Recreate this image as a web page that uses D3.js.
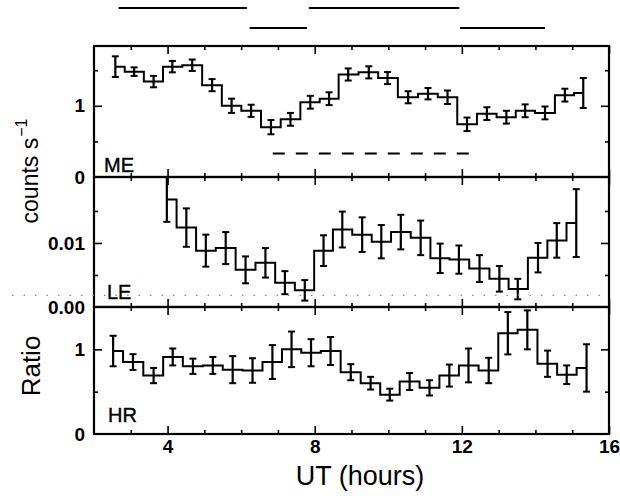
<!DOCTYPE html>
<html>

<head>
    <meta charset="UTF-8">
    <style>
        body { margin: 0; background: #fff; }
        svg { display: block; font-family: "Liberation Sans", Arial, sans-serif; }
    </style>
</head>

<body>
    <svg></svg>
    <script src="https://d3js.org/d3.v7.min.js"></script>

    <script>

        let width = 620, height = 501;

        // ME panel (counts s-1)
        const meHours = [2.58, 3.09, 3.62, 4.13, 4.67, 5.21, 5.74, 6.27, 6.81, 7.34, 7.88, 8.39, 8.91,
            9.47, 9.98, 10.54, 11.08, 11.61, 12.14, 12.68, 13.21, 13.72, 14.26, 14.80, 15.30];
        const meRate = [1.55, 1.48, 1.34, 1.55, 1.57, 1.29, 1.0, 0.93, 0.70, 0.81, 1.05, 1.10, 1.44,
            1.47, 1.39, 1.12, 1.17, 1.12, 0.74, 0.89, 0.84, 0.93, 0.90, 1.15, 1.18];
        const meErr = [0.145, 0.06, 0.08, 0.08, 0.08, 0.085, 0.1, 0.085, 0.1, 0.09, 0.09, 0.09, 0.085,
            0.085, 0.085, 0.085, 0.08, 0.095, 0.095, 0.09, 0.09, 0.09, 0.09, 0.09, 0.21];

        // LE panel (counts s-1)
        const leHours = [3.98, 4.51, 5.04, 5.58, 6.12, 6.66, 7.19, 7.73, 8.24, 8.75, 9.29, 9.81, 10.34,
            10.88, 11.41, 11.92, 12.48, 13.02, 13.52, 14.07, 14.58, 15.11];
        const leRate = [0.0168, 0.0124, 0.0088, 0.0092, 0.0058, 0.0069, 0.0038, 0.0026, 0.0088, 0.0121,
            0.0113, 0.0102, 0.0117, 0.0108, 0.0076, 0.0074, 0.0060, 0.0044, 0.0028, 0.0077, 0.0104, 0.0131];
        const leErr = [0.0035, 0.003, 0.0025, 0.0025, 0.0021, 0.0023, 0.0018, 0.0016, 0.0024, 0.0028,
            0.0027, 0.0026, 0.0027, 0.0027, 0.0023, 0.0022, 0.0021, 0.002, 0.0016, 0.0023, 0.0027, 0.0053];

        // HR panel (ratio)
        const hrHours = [2.52, 3.06, 3.62, 4.14, 4.69, 5.23, 5.77, 6.31, 6.85, 7.37, 7.90, 8.43, 8.98,
            9.52, 10.04, 10.58, 11.12, 11.66, 12.18, 12.73, 13.25, 13.78, 14.33, 14.85, 15.39];
        const hrRatio = [0.98, 0.85, 0.69, 0.91, 0.80, 0.81, 0.76, 0.75, 0.85, 1.0, 0.96, 0.98, 0.73,
            0.60, 0.465, 0.62, 0.545, 0.69, 0.81, 0.75, 1.19, 1.23, 0.83, 0.70, 0.78];
        const hrErr = [0.18, 0.093, 0.09, 0.1, 0.09, 0.1, 0.16, 0.145, 0.2, 0.21, 0.16, 0.165, 0.095,
            0.075, 0.07, 0.1, 0.09, 0.13, 0.2, 0.15, 0.25, 0.23, 0.155, 0.11, 0.28];

        // coverage bars above the plot (hours, row 0 = upper)
        const barStart = [2.67, 6.23, 7.84, 11.95];
        const barEnd = [6.16, 7.79, 11.93, 14.26];
        const barRow = [0, 1, 0, 1];

        // dashed interval in ME panel, dotted level in LE panel
        const dashStart = 6.86, dashEnd = 12.35, dashLevel = 0.33;
        const leDotLevel = 0.0018;

        const xMajor = [4, 8, 12, 16];
        const xMinor = [3, 5, 6, 7, 9, 10, 11, 13, 14, 15];

        let svg = d3.select("svg")
            .attr("width", width)
            .attr("height", height)
            .attr("viewBox", "0 0 " + width + " " + height);

        const x0 = 94, x1 = 609;
        const x = d3.scaleLinear().domain([2, 16]).range([x0, x1]);

        const panels = [
            {
                name: "ME", top: 46, bottom: 177, domain: [0, 1.84], hours: meHours, vals: meRate, errs: meErr,
                major: [1], minor: [0.5, 1.5], labels: [0, 1], fmt: d3.format("d"), tag: [104, 172]
            },
            {
                name: "LE", top: 177, bottom: 307, domain: [0, 0.0203], hours: leHours, vals: leRate, errs: leErr,
                major: [0.01], minor: [0.005, 0.015], labels: [0, 0.01], fmt: d3.format(".2f"), tag: [107, 299]
            },
            {
                name: "HR", top: 307, bottom: 434, domain: [0, 1.5], hours: hrHours, vals: hrRatio, errs: hrErr,
                major: [1], minor: [0.5], labels: [0, 1], fmt: d3.format("d"), tag: [108, 422]
            }
        ];

        panels.forEach((p, k) => {
            const y = d3.scaleLinear().domain(p.domain).range([p.bottom, p.top]);
            const g = svg.append("g");

            g.append("clipPath").attr("id", "clip" + k)
                .append("rect")
                .attr("x", x0).attr("y", p.top)
                .attr("width", x1 - x0).attr("height", p.bottom - p.top);

            // ticks, all pointing inward
            const tickGroup = (axis, tx, ty) => {
                const a = g.append("g").attr("transform", "translate(" + tx + "," + ty + ")").call(axis);
                a.select(".domain").remove();
                a.selectAll("line").attr("stroke-width", 1.6);
                return a;
            };
            tickGroup(d3.axisBottom(x).tickValues(xMajor).tickSize(-8).tickFormat(""), 0, p.bottom);
            tickGroup(d3.axisBottom(x).tickValues(xMinor).tickSize(-4).tickFormat(""), 0, p.bottom);
            tickGroup(d3.axisTop(x).tickValues(xMajor).tickSize(-8).tickFormat(""), 0, p.top);
            tickGroup(d3.axisTop(x).tickValues(xMinor).tickSize(-4).tickFormat(""), 0, p.top);
            tickGroup(d3.axisLeft(y).tickValues(p.major).tickSize(-8).tickFormat(""), x0, 0);
            tickGroup(d3.axisLeft(y).tickValues(p.minor).tickSize(-4).tickFormat(""), x0, 0);
            tickGroup(d3.axisRight(y).tickValues(p.major).tickSize(-8).tickFormat(""), x1, 0);
            tickGroup(d3.axisRight(y).tickValues(p.minor).tickSize(-4).tickFormat(""), x1, 0);

            // y labels
            const yl = tickGroup(d3.axisLeft(y).tickValues(p.labels).tickSize(0).tickPadding(9).tickFormat(p.fmt), x0, 0);
            yl.selectAll("text")
                .attr("font-size", 19)
                .attr("font-weight", "bold")
                .attr("font-family", "Liberation Sans, Arial, sans-serif")
                .attr("fill", "#000");

            // x labels on bottom panel only
            if (k === panels.length - 1) {
                const xl = tickGroup(d3.axisBottom(x).tickValues(xMajor).tickSize(0).tickPadding(6).tickFormat(d3.format("d")), 0, p.bottom);
                xl.selectAll("text")
                    .attr("font-size", 19)
                    .attr("font-weight", "bold")
                    .attr("font-family", "Liberation Sans, Arial, sans-serif")
                    .attr("fill", "#000");
            }

            // step line
            const pts = p.hours.map((h, i) => [h, p.vals[i], p.errs[i]]);
            const line = d3.line()
                .x(d => x(d[0]))
                .y(d => y(d[1]))
                .curve(d3.curveStep);

            const data = g.append("g").attr("clip-path", "url(#clip" + k + ")");

            data.append("path")
                .datum(pts)
                .attr("d", line)
                .attr("fill", "none")
                .attr("stroke", "#000")
                .attr("stroke-width", 2);

            // error bars
            const bars = data.selectAll(".err")
                .data(pts)
                .enter()
                .append("g")
                .attr("class", "err");
            bars.append("line")
                .attr("x1", d => x(d[0])).attr("x2", d => x(d[0]))
                .attr("y1", d => y(d[1] - d[2])).attr("y2", d => y(d[1] + d[2]))
                .attr("stroke", "#000").attr("stroke-width", 2.2);
            [-1, 1].forEach(s => {
                bars.append("line")
                    .attr("x1", d => x(d[0]) - 3.5).attr("x2", d => x(d[0]) + 3.5)
                    .attr("y1", d => y(d[1] + s * d[2])).attr("y2", d => y(d[1] + s * d[2]))
                    .attr("stroke", "#000").attr("stroke-width", 2);
            });

            if (p.name === "ME") {
                g.append("line")
                    .attr("x1", x(dashStart)).attr("x2", x(dashEnd))
                    .attr("y1", y(dashLevel)).attr("y2", y(dashLevel))
                    .attr("stroke", "#000").attr("stroke-width", 2)
                    .attr("stroke-dasharray", "12,11");
            }
            if (p.name === "LE") {
                svg.append("line")
                    .attr("x1", 12).attr("x2", x1)
                    .attr("y1", y(leDotLevel)).attr("y2", y(leDotLevel))
                    .attr("stroke", "#888").attr("stroke-width", 1.2)
                    .attr("stroke-dasharray", "1.5,10");
            }

            // panel name
            g.append("text")
                .attr("x", p.tag[0]).attr("y", p.tag[1])
                .attr("font-size", 20)
                .attr("stroke", "#000")
                .attr("stroke-width", 0.4)
                .text(p.name);

            // frame
            g.append("rect")
                .attr("x", x0).attr("y", p.top)
                .attr("width", x1 - x0).attr("height", p.bottom - p.top)
                .attr("fill", "none")
                .attr("stroke", "#000")
                .attr("stroke-width", 2.2);
        });

        // coverage bars
        svg.append("g")
            .selectAll("line")
            .data(barStart)
            .enter()
            .append("line")
            .attr("x1", d => x(d))
            .attr("x2", (d, i) => x(barEnd[i]))
            .attr("y1", (d, i) => barRow[i] === 0 ? 8 : 28)
            .attr("y2", (d, i) => barRow[i] === 0 ? 8 : 28)
            .attr("stroke", "#000")
            .attr("stroke-width", 2.2);

        // axis titles
        const yTitle = svg.append("text")
            .attr("transform", "translate(38,171) rotate(-90)")
            .attr("text-anchor", "middle")
            .attr("font-size", 23);
        yTitle.append("tspan").text("counts s");
        yTitle.append("tspan").attr("dy", -11).attr("dx", 1).attr("font-size", 16).text("\u22121");

        svg.append("text")
            .attr("transform", "translate(40,366) rotate(-90)")
            .attr("text-anchor", "middle")
            .attr("font-size", 26)
            .text("Ratio");

        svg.append("text")
            .attr("x", 360).attr("y", 485)
            .attr("text-anchor", "middle")
            .attr("font-size", 27)
            .text("UT (hours)");

    </script>

</body>

</html>
